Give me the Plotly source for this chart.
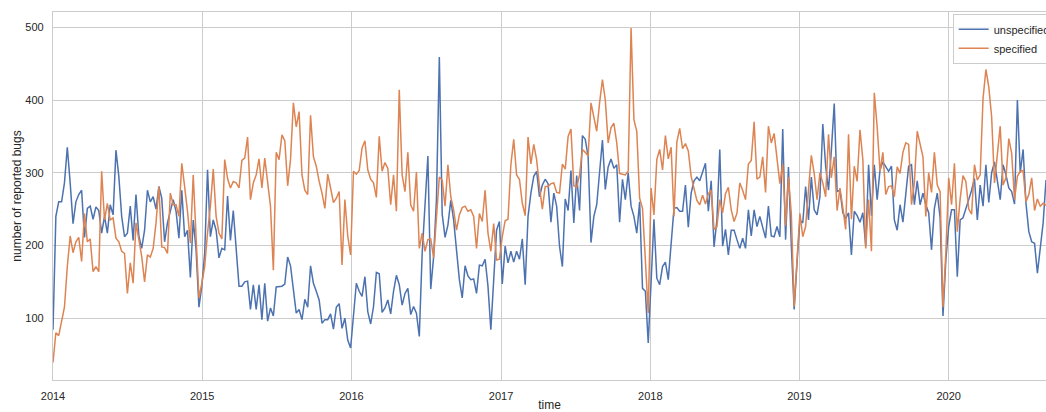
import datetime as dt
import plotly.graph_objects as go

start = dt.date(2014, 1, 1)

unspecified = [
    84,240,260,260,286,335,286,230,260,270,276,211,251,254,236,253,248,217,240,217,256,242,331,295,240,212,217,254,207,270,213,196,221,276,260,267,250,281,265,205,231,249,263,247,210,276,212,221,156,235,194,
    115,144,189,304,212,235,221,183,196,194,268,207,248,194,144,144,150,151,112,146,112,146,98,148,96,114,103,143,143,144,147,184,172,143,107,112,98,126,115,172,148,137,125,93,98,98,106,85,115,120,86,100,70,59,107,148,
    137,130,157,109,92,116,163,161,108,114,125,106,137,159,146,118,134,141,105,116,107,75,189,250,323,140,184,263,459,243,211,228,262,235,189,153,128,172,158,153,154,134,173,172,181,144,84,162,221,233,147,199,
    176,192,177,192,181,209,146,240,272,295,302,267,283,291,285,232,272,254,199,171,264,248,303,231,296,248,351,346,322,204,240,256,300,345,277,308,319,306,311,232,291,263,300,254,240,217,260,141,137,
    66,150,236,155,146,171,177,153,199,251,252,247,247,283,225,272,289,294,289,302,313,247,289,198,235,332,199,222,187,221,221,208,196,210,196,249,213,249,226,240,224,210,254,213,212,226,212,360,208,308,200,
    112,
    177,235,231,281,235,294,249,242,267,367,309,276,331,395,274,276,245,237,245,187,247,241,232,245,199,311,241,311,263,304,315,309,302,309,235,221,256,232,276,309,311,256,289,256,272,256,245,194,251,272,238,
    103,180,226,249,249,157,235,238,249,263,276,292,235,283,254,311,259,300,315,286,263,311,297,279,274,257,400,300,332,258,219,205,203,162,200,231,290,
]

specified = [
    39,80,76,98,115,171,213,190,205,211,178,244,205,209,164,171,164,302,235,258,235,238,210,205,192,189,134,176,148,231,210,185,150,187,184,196,231,281,198,197,189,272,256,256,240,313,281,247,203,297,212,128,
    148,171,217,254,305,240,217,209,318,292,279,288,286,279,317,320,349,263,286,297,319,279,320,287,254,166,328,318,352,344,282,318,396,363,384,297,276,270,379,322,309,288,272,251,298,279,259,265,274,173,263,213,187,302,298,
    303,334,344,304,291,286,266,350,302,314,306,256,297,247,414,297,274,328,256,247,301,196,217,192,208,209,183,240,294,290,254,311,267,249,221,242,252,254,247,249,240,196,244,233,276,217,192,230,180,181,212,234,
    236,311,346,297,291,258,241,349,312,339,318,281,250,281,281,285,286,273,272,312,305,350,360,282,280,297,332,328,323,396,377,357,396,428,400,341,362,368,341,299,298,297,302,499,373,357,265,251,180,
    107,279,242,318,332,304,351,319,335,240,342,361,333,340,330,295,276,262,256,269,257,271,276,222,226,263,245,271,280,249,233,244,286,276,263,312,317,370,291,294,322,273,364,341,354,318,285,312,227,294,244,116,
    176,244,212,226,276,324,299,263,300,286,267,353,293,322,248,279,252,222,353,236,309,288,359,318,196,263,192,410,363,302,328,270,281,282,267,308,299,328,341,339,256,286,357,341,322,240,300,273,328,283,274,
    115,190,293,256,313,219,264,296,288,250,243,311,290,297,402,442,418,377,286,329,364,283,293,347,327,263,295,302,303,260,270,293,248,264,254,258,255,
]

dates = [start + dt.timedelta(days=7 * i) for i in range(len(unspecified))]
year_ticks = [dt.date(y, 1, 1) for y in range(2014, 2021)]
year_labels = [str(y) for y in range(2014, 2021)]
y_ticks = [100, 200, 300, 400, 500]

series_names = ["unspecified", "specified"]
series_colors = ["#4C72B0", "#DD8452"]

FONT = "Liberation Sans, Arial, DejaVu Sans, sans-serif"

fig = go.Figure()
for name, vals, col in zip(series_names, [unspecified, specified], series_colors):
    fig.add_trace(go.Scatter(x=dates, y=vals, mode="lines", name=name,
                             line=dict(color=col, width=1.5)))

fig.update_layout(
    width=1046, height=412,
    margin=dict(l=53, r=0, t=12, b=32, autoexpand=False),
    paper_bgcolor="white", plot_bgcolor="white",
    font=dict(family=FONT, size=11, color="#262626"),
    showlegend=True,
    legend=dict(x=0.906, y=0.995, xanchor="left", yanchor="top",
                bgcolor="rgba(255,255,255,0.8)", bordercolor="#cccccc", borderwidth=1,
                font=dict(size=11, color="#262626"), tracegroupgap=0, itemwidth=30),
)
fig.update_xaxes(
    range=[dates[0], dates[-1]],
    tickvals=year_ticks, ticktext=year_labels,
    showgrid=True, gridcolor="#cccccc", gridwidth=1,
    showline=True, linecolor="#cccccc", linewidth=1.25, mirror=True,
    zeroline=False, ticks="outside", ticklen=6, tickcolor="rgba(0,0,0,0)",
    title=dict(text="time", font=dict(size=12, color="#262626"), standoff=10),
)
fig.update_yaxes(
    range=[15, 521],
    tickvals=y_ticks,
    showgrid=True, gridcolor="#cccccc", gridwidth=1,
    showline=True, linecolor="#cccccc", linewidth=1.25, mirror=True,
    zeroline=False, ticks="outside", ticklen=6, tickcolor="rgba(0,0,0,0)",
    title=dict(text="number of reported bugs", font=dict(size=12, color="#262626"), standoff=1),
)

fig.write_html("out.html", config={"displayModeBar": False},
               post_script="document.body.style.margin='0';document.body.style.overflow='hidden';")
